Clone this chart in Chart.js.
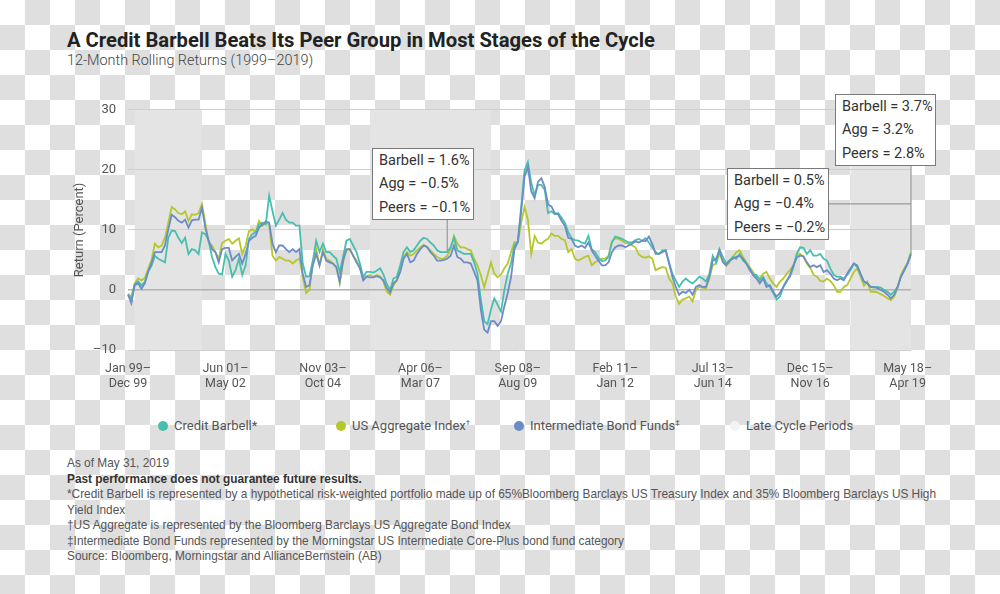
<!DOCTYPE html>
<html>
<head>
<meta charset="utf-8">
<script src="https://cdn.jsdelivr.net/npm/chart.js@4.4.1/dist/chart.umd.min.js"></script>
<style>
  html, body { margin: 0; padding: 0; }
  body {
    width: 1000px; height: 594px; position: relative; overflow: hidden;
    background-color: #fff;
    background-image: conic-gradient(#dfdfdf 0 25%, #fff 0 50%, #dfdfdf 0 75%, #fff 0);
    background-size: 50px 50px;
    font-family: Roboto, "Liberation Sans", sans-serif;
  }
  #title { position: absolute; left: 67px; top: 28px; font-size: 20.2px; line-height: 24px; font-weight: 700; color: #222; white-space: nowrap; }
  #subtitle { position: absolute; left: 67px; top: 52px; font-size: 14.4px; line-height: 18px; font-weight: 300; color: #444; white-space: nowrap; }
  #wrap { position: absolute; left: 60px; top: 90px; width: 880px; height: 310px; }
  .note { position: absolute; box-sizing: border-box; background: #fff; border: 1.5px solid #7a7a7a;
          padding: 0 6px; font-size: 14.5px; line-height: 23.3px; color: #333; white-space: nowrap; }
  #legend { position: absolute; left: 0; top: 417px; width: 1000px; height: 18px; }
  .lg { position: absolute; top: 0; height: 18px; line-height: 18px; font-size: 13px; color: #555; white-space: nowrap; }
  .lg i { position: absolute; left: 0; top: 4px; width: 10px; height: 10px; border-radius: 50%; }
  .lg span { margin-left: 16px; }
  .lg sup { font-size: 8px; vertical-align: 5px; line-height: 0; }
  #notes { position: absolute; left: 67px; top: 456px; font-family: "Liberation Sans", Arial, sans-serif;
           font-size: 11.85px; line-height: 15.5px; color: #555; white-space: nowrap; }
  #notes b { color: #333; }
</style>
</head>
<body>
<div id="title">A Credit Barbell Beats Its Peer Group in Most Stages of the Cycle</div>
<div id="subtitle">12-Month Rolling Returns (1999–2019)</div>
<div id="wrap"><canvas id="chart" width="880" height="310"></canvas></div>
<div id="legend"></div>
<div id="notes">
  As of May 31, 2019<br>
  <b>Past performance does not guarantee future results.</b><br>
  *Credit Barbell is represented by a hypothetical risk-weighted portfolio made up of 65%Bloomberg Barclays US Treasury Index and 35% Bloomberg Barclays US High<br>
  Yield Index<br>
  †US Aggregate is represented by the Bloomberg Barclays US Aggregate Bond Index<br>
  ‡Intermediate Bond Funds represented by the Morningstar US Intermediate Core-Plus bond fund category<br>
  Source: Bloomberg, Morningstar and AllianceBernstein (AB)
</div>
<script>
// 12-month rolling returns, one value per window start month (Jan 99 ... Jun 18)
const barbell = [
  -0.8, -1.5, 1.0, 1.4, 0.8, 1.3, 3.0, 4.0, 5.7, 5.2,
  4.9, 4.6, 8.7, 9.9, 9.8, 8.7, 7.8, 8.7, 6.0, 6.8,
  6.6, 6.0, 9.6, 9.3, 8.2, 5.5, 3.8, 2.7, 2.6, 6.0,
  4.9, 2.2, 3.3, 5.2, 2.5, 4.1, 8.5, 9.3, 9.6, 10.9,
  11.2, 10.9, 15.7, 13.1, 10.7, 11.7, 12.8, 11.7, 11.2, 11.2,
  10.7, 10.7, 4.4, 2.2, 2.3, 4.9, 8.2, 6.3, 7.7, 6.3,
  6.3, 5.7, 5.2, 3.0, 5.5, 8.2, 8.5, 7.4, 6.3, 4.4,
  2.2, 3.0, 3.0, 2.9, 3.2, 3.6, 2.6, 1.0, 0.0, 1.9,
  2.2, 4.1, 6.3, 7.1, 6.3, 6.6, 7.4, 8.2, 8.7, 8.5,
  7.9, 7.4, 6.6, 6.3, 6.3, 6.3, 7.1, 8.7, 6.6, 6.3,
  6.0, 6.0, 6.0, 4.6, 2.7, -1.6, -5.2, -5.7, -3.3, -1.4,
  -2.5, -3.6, 0.0, 2.7, 4.5, 7.5, 8.0, 13.9, 19.9, 21.3,
  17.8, 15.8, 17.5, 17.5, 16.7, 12.8, 13.1, 12.6, 12.8, 12.0,
  11.2, 9.6, 8.6, 8.3, 8.2, 7.9, 7.7, 9.0, 6.8, 6.3,
  5.4, 4.8, 4.9, 5.5, 7.9, 8.9, 8.7, 8.5, 8.2, 7.9,
  7.9, 8.3, 8.5, 8.2, 8.6, 7.9, 7.1, 6.3, 6.0, 6.6,
  6.6, 4.6, 2.7, 1.6, 0.5, 1.4, 1.9, 1.4, 1.1, 1.6,
  2.2, 1.9, 1.4, 2.7, 5.7, 4.6, 6.8, 5.5, 4.4, 4.9,
  5.5, 5.2, 6.0, 4.9, 4.4, 3.6, 2.5, 2.5, 1.6, 2.2,
  1.1, 0.5, -0.5, -1.6, -1.1, 0.5, 1.6, 2.2, 3.8, 6.0,
  7.1, 7.0, 6.0, 6.6, 5.7, 5.7, 6.0, 5.2, 4.9, 3.6,
  2.5, 2.2, 2.2, 1.9, 2.5, 3.3, 4.4, 3.8, 2.5, 1.4,
  1.1, 0.5, 0.4, 0.5, 0.4, 0.0, -0.3, -0.8, -0.3, 0.5,
  2.2, 3.3, 4.5, 6.1
];
const agg = [
  -0.6, -1.2, 1.1, 1.9, 1.6, 2.0, 3.5, 5.0, 7.7, 7.1,
  7.4, 8.7, 11.2, 13.8, 13.4, 12.8, 12.6, 13.1, 11.5, 12.6,
  12.5, 12.8, 14.3, 11.2, 7.9, 7.4, 6.3, 5.2, 7.8, 8.2,
  8.5, 7.7, 8.2, 8.6, 6.0, 7.4, 9.8, 10.1, 9.6, 11.5,
  10.7, 11.2, 10.9, 5.7, 4.9, 5.5, 5.2, 4.9, 4.9, 4.4,
  4.9, 5.2, 2.2, -0.5, 0.0, 4.6, 6.8, 4.1, 6.8, 5.2,
  4.9, 4.4, 3.8, 1.1, 4.6, 6.6, 6.8, 5.7, 4.9, 3.8,
  1.9, 2.3, 2.5, 2.2, 2.5, 2.3, 1.4, -0.3, -0.8, 0.8,
  1.6, 3.3, 5.5, 6.3, 5.7, 6.0, 6.6, 7.1, 7.5, 7.2,
  6.6, 6.0, 5.5, 5.2, 5.2, 5.7, 6.8, 9.0, 7.7, 7.1,
  7.1, 6.8, 6.6, 5.2, 4.1, 2.5, 0.4, 2.5, 4.6, 2.7,
  2.1, 2.6, 3.6, 4.4, 6.3, 8.0, 7.9, 11.2, 13.8, 11.7,
  6.0, 9.0, 7.9, 7.7, 8.2, 8.5, 9.4, 9.0, 9.0, 8.5,
  8.3, 6.3, 6.8, 5.2, 4.9, 5.2, 5.5, 5.7, 4.1, 4.6,
  4.9, 5.2, 5.2, 5.7, 8.1, 8.6, 8.5, 8.2, 7.8, 7.7,
  7.4, 7.1, 5.9, 5.5, 5.4, 5.6, 5.2, 3.3, 3.6, 3.8,
  3.7, 1.9, 1.1, -1.1, -2.3, -1.6, -1.4, -1.1, -1.9, 0.0,
  0.5, 0.4, 0.3, 1.9, 4.1, 4.4, 6.0, 4.9, 4.1, 4.6,
  5.5, 6.3, 6.6, 5.5, 4.6, 3.8, 3.0, 2.2, 1.9, 2.7,
  3.0, 1.9, 1.1, 0.5, 1.4, 1.9, 2.7, 3.3, 4.1, 5.7,
  6.0, 5.5, 4.4, 3.7, 2.5, 2.2, 1.5, 1.4, 1.9, 1.5,
  0.8, -0.3, -0.3, 0.5, 0.8, 1.9, 3.0, 3.6, 2.2, 0.7,
  1.4, -0.3, -0.3, -0.4, -0.7, -1.0, -1.4, -1.7, -1.1, 0.3,
  2.5, 3.6, 4.6, 6.3
];
const peers = [
  -0.8, -2.2, 0.8, 1.1, 0.2, 1.1, 3.1, 4.5, 6.3, 6.3,
  6.3, 7.4, 10.1, 12.5, 12.1, 11.5, 11.2, 11.7, 10.4, 11.6,
  11.7, 11.7, 13.7, 10.4, 8.2, 6.8, 6.3, 4.6, 6.8, 7.0,
  7.0, 4.9, 5.5, 6.0, 4.4, 6.0, 8.2, 8.7, 9.0, 10.4,
  10.9, 11.4, 11.2, 7.7, 6.3, 7.4, 7.4, 6.8, 6.3, 6.8,
  6.3, 6.8, 2.7, 0.5, 0.8, 4.1, 6.0, 4.1, 6.3, 4.9,
  4.6, 4.4, 3.8, 1.4, 4.9, 6.8, 6.8, 5.7, 4.6, 3.6,
  1.6, 2.2, 2.1, 2.1, 2.3, 2.1, 1.6, 0.3, -0.4, 1.1,
  1.6, 3.0, 5.2, 6.0, 4.6, 4.9, 6.0, 6.8, 7.4, 7.1,
  6.3, 5.7, 4.9, 4.9, 5.0, 5.2, 5.7, 7.4, 5.5, 5.2,
  4.6, 4.6, 4.4, 3.0, 1.6, -3.3, -6.6, -7.1, -5.2, -5.2,
  -6.0, -5.2, -2.7, -0.5, 2.2, 6.8, 8.0, 13.1, 18.9, 20.5,
  16.4, 15.3, 18.0, 18.6, 17.2, 14.2, 13.9, 12.8, 12.6, 11.5,
  10.7, 8.7, 8.5, 7.4, 7.1, 7.4, 7.0, 7.9, 6.6, 5.7,
  4.9, 4.1, 4.1, 4.6, 6.3, 7.1, 7.4, 7.4, 7.1, 7.4,
  7.7, 8.1, 7.9, 8.2, 8.1, 8.9, 7.7, 6.0, 6.0, 6.3,
  6.6, 4.4, 2.2, 0.5, -0.8, -0.3, -0.5, 0.0, -0.8, 0.5,
  0.8, 0.5, 0.5, 2.2, 4.9, 5.2, 6.6, 4.6, 4.1, 4.9,
  5.2, 5.5, 5.7, 5.2, 4.4, 3.3, 2.5, 1.9, 1.1, 1.9,
  0.5, 0.8, -0.3, -1.1, -0.5, 0.5, 1.4, 2.5, 4.1, 5.4,
  5.7, 5.6, 4.6, 3.8, 4.1, 3.8, 4.1, 3.0, 3.3, 2.7,
  1.9, 1.6, 1.9, 1.6, 2.7, 3.6, 4.4, 4.1, 2.7, 1.4,
  1.1, 0.5, 0.5, 0.3, 0.0, -0.3, -0.8, -1.4, -0.8, 0.5,
  2.2, 3.3, 4.4, 5.9
];

// window start months: Jan 99 ... Jun 18
const MON = ['Jan','Feb','Mar','Apr','May','Jun','Jul','Aug','Sep','Oct','Nov','Dec'];
const months = barbell.map((_, i) => MON[i % 12] + ' ' + String((99 + Math.floor(i / 12)) % 100).padStart(2, '0'));

const tickLabels = [
  ['Jan 99–', 'Dec 99'], ['Jun 01–', 'May 02'], ['Nov 03–', 'Oct 04'],
  ['Apr 06–', 'Mar 07'], ['Sep 08–', 'Aug 09'], ['Feb 11–', 'Jan 12'],
  ['Jul 13–', 'Jun 14'], ['Dec 15–', 'Nov 16'], ['May 18–', 'Apr 19']
];

// late cycle periods (start / end month)
const lateStart = ['Mar 99', 'Jan 05', 'Dec 16'];
const lateEnd   = ['Nov 00', 'Jan 08', 'Jun 18'];

// call-out boxes
const noteMonth = ['Dec 06', 'Jun 18', 'Jun 18'];
const noteText = [
  ['Barbell = 1.6%', 'Agg = −0.5%', 'Peers = −0.1%'],
  ['Barbell = 0.5%', 'Agg = −0.4%', 'Peers = −0.2%'],
  ['Barbell = 3.7%', 'Agg = 3.2%', 'Peers = 2.8%']
];

const TEAL = '#46bfae', GREEN = '#b6c72c', BLUE = '#6b8cc7', LATE = '#e4e4e4';

// boxes in page coords + how the leader leaves them
const noteBox = [
  { left: 372, top: 148, width: 102, leader: 'down' },
  { left: 727, top: 168, width: 102, leader: 'side' },
  { left: 835, top: 94, width: 101, leader: 'down' }
];
noteBox.forEach((b, i) => {
  const d = document.createElement('div');
  d.className = 'note';
  d.style.left = b.left + 'px';
  d.style.top = b.top + 'px';
  d.style.width = b.width + 'px';
  d.innerHTML = noteText[i].join('<br>');
  document.body.appendChild(d);
  b.el = d;
});

const latePlugin = {
  id: 'lateCycle',
  beforeDraw(chart) {
    const { ctx, chartArea: a, scales: { x } } = chart;
    ctx.save();
    ctx.fillStyle = LATE;
    lateStart.forEach((s, i) => {
      const x0 = x.getPixelForValue(months.indexOf(s));
      const x1 = Math.min(x.getPixelForValue(months.indexOf(lateEnd[i])), a.right);
      ctx.fillRect(x0, a.top, x1 - x0, a.bottom - a.top);
    });
    ctx.restore();
  }
};

const leaderPlugin = {
  id: 'leaders',
  beforeDatasetsDraw(chart) {
    const { ctx, scales: { x, y } } = chart;
    const c = chart.canvas.getBoundingClientRect();
    ctx.save();
    ctx.strokeStyle = '#9a9a9a';
    ctx.lineWidth = 1.2;
    noteBox.forEach((b, i) => {
      const r = b.el.getBoundingClientRect();
      const idx = months.indexOf(noteMonth[i]);
      const px = x.getPixelForValue(idx);
      const py = y.getPixelForValue(barbell[idx]);
      ctx.beginPath();
      if (b.leader === 'down') {
        ctx.moveTo(px, r.bottom - c.top);
        ctx.lineTo(px, py);
      } else {
        const my = (r.top + r.bottom) / 2 - c.top;
        ctx.moveTo(r.right - c.left, my);
        ctx.lineTo(px, my);
      }
      ctx.stroke();
    });
    ctx.restore();
  }
};

Chart.defaults.font.family = 'Roboto, "Liberation Sans", sans-serif';
Chart.defaults.color = '#555';

const chart = new Chart(document.getElementById('chart'), {
  type: 'line',
  data: {
    labels: months,
    datasets: [
      { label: 'Intermediate Bond Funds‡', data: peers, borderColor: BLUE, backgroundColor: BLUE },
      { label: 'Credit Barbell*', data: barbell, borderColor: TEAL, backgroundColor: TEAL },
      { label: 'US Aggregate Index†', data: agg, borderColor: GREEN, backgroundColor: GREEN }
    ]
  },
  options: {
    responsive: false,
    animation: false,
    layout: { padding: { top: 18, right: 29 } },
    elements: {
      line: { borderWidth: 1.8, tension: 0 },
      point: { radius: 0 }
    },
    plugins: { legend: { display: false }, tooltip: { enabled: false } },
    scales: {
      x: {
        offset: false,
        grid: { display: false },
        border: { display: false },
        ticks: {
          autoSkip: false, maxRotation: 0, padding: 3.5, font: { size: 12.5 },
          callback: (v, i) => tickLabels.find(t => t[0].startsWith(months[i])) || null
        },
        afterFit: s => { s.height = 50; }
      },
      y: {
        min: -10, max: 30,
        grid: {
          drawTicks: false,
          color: c => c.tick.value === 0 ? '#b2b2b2' : '#cfcfcf',
          lineWidth: c => c.tick.value === 0 ? 1.5 : 1
        },
        border: { display: false },
        ticks: {
          stepSize: 10, padding: 12, font: { size: 13 },
          callback: v => v < 0 ? '–' + Math.abs(v) : v
        },
        title: { display: true, text: 'Return (Percent)', font: { size: 13 }, padding: { top: 12, bottom: 0 } },
        afterFit: s => { s.width = 68; }
      }
    }
  },
  plugins: [latePlugin, leaderPlugin]
});

// legend in the reference order
const legendItems = [
  { ds: 1, x: 158 }, { ds: 2, x: 336 }, { ds: 0, x: 514 }, { ds: null, x: 730 }
];
const legend = document.getElementById('legend');
legendItems.forEach(it => {
  const ds = it.ds === null ? { label: 'Late Cycle Periods', borderColor: '#f3f3f3' } : chart.data.datasets[it.ds];
  const d = document.createElement('div');
  d.className = 'lg';
  d.style.left = it.x + 'px';
  const txt = ds.label.replace(/([†‡])$/, '<sup>$1</sup>');
  d.innerHTML = '<i style="background:' + ds.borderColor + '"></i><span>' + txt + '</span>';
  legend.appendChild(d);
});
</script>
</body>
</html>
